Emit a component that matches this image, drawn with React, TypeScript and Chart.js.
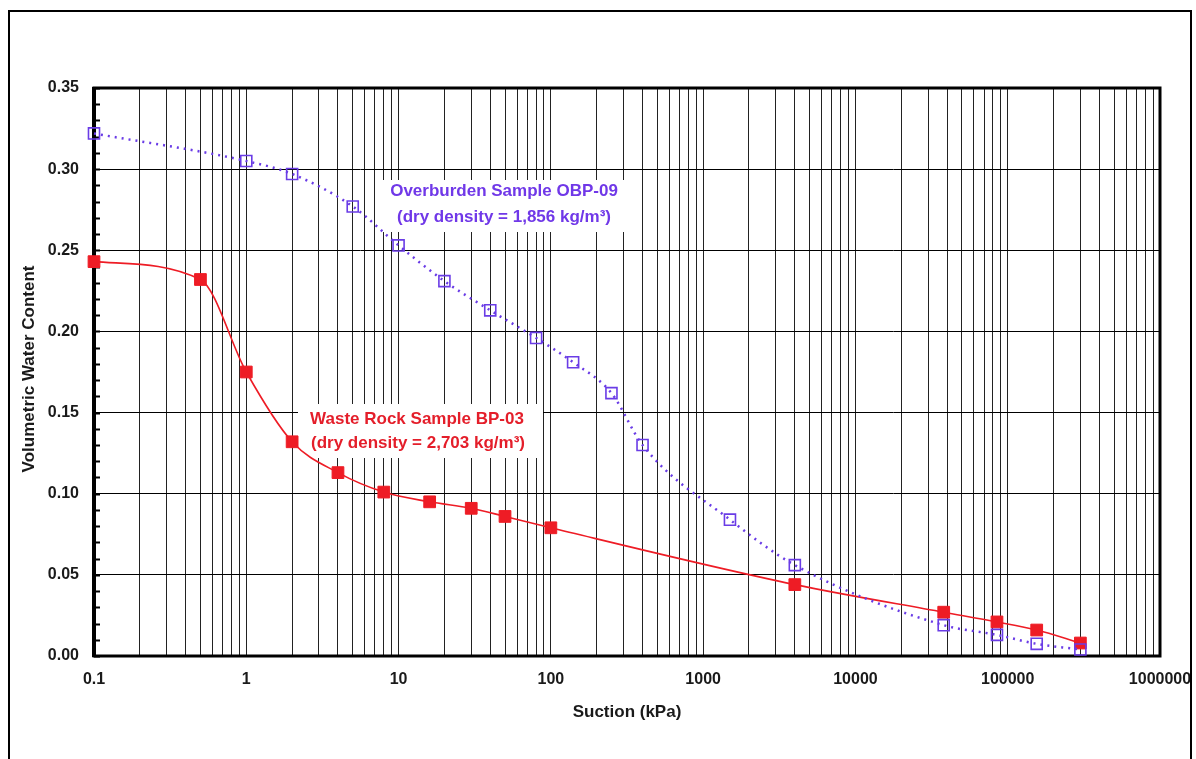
import { useEffect, useRef } from 'react';
import { Chart, registerables } from 'chart.js';

Chart.register(...registerables);

// ---- Data ----
const suctionOB = [0.1, 1, 2, 5, 10, 20, 40, 80, 140, 250, 400, 1500, 4000, 38000, 85000, 155000, 300000];
const vwcOB = [0.322, 0.305, 0.297, 0.277, 0.253, 0.231, 0.213, 0.196, 0.181, 0.162, 0.130, 0.084, 0.056, 0.019, 0.013, 0.0075, 0.004];

const suctionWR = [0.1, 0.5, 1, 2, 4, 8, 16, 30, 50, 100, 4000, 38000, 85000, 155000, 300000];
const vwcWR = [0.243, 0.232, 0.175, 0.132, 0.113, 0.101, 0.095, 0.091, 0.086, 0.079, 0.044, 0.027, 0.021, 0.016, 0.008];

const xDecades = [0.1, 1, 10, 100, 1000, 10000, 100000];
const xMultipliers = [1, 2, 3, 4, 5, 6, 7, 8, 9];
const xMin = 0.1;
const xMax = 1000000;
const xTickLabels = ['0.1', '1', '10', '100', '1000', '10000', '100000', '1000000'];

const yMin = 0;
const yMax = 0.35;
const yMajorStep = 0.05;
const yMinorCount = 35; // minor ticks every 0.01

const labelOB = ['Overburden Sample OBP-09', '(dry density = 1,856 kg/m³)'];
const labelWR = ['Waste Rock Sample BP-03', '(dry density = 2,703 kg/m³)'];
const xTitle = 'Suction (kPa)';
const yTitle = 'Volumetric Water Content';

const BLUE = '#6a3ce6';
const BLUE_TEXT = '#7038e8';
const RED = '#ee1c25';
const RED_TEXT = '#e41e2a';
const FONT = "'Liberation Sans', Arial, Helvetica, sans-serif";

export default function App() {
  const ref = useRef<HTMLCanvasElement>(null);

  useEffect(() => {
    const canvas = ref.current;
    if (!canvas) return;

    const decor = {
      id: 'decor',
      beforeDraw(chart: any) {
        const ctx = chart.ctx;
        ctx.save();
        ctx.fillStyle = '#fff';
        ctx.fillRect(0, 0, chart.width, chart.height);
        ctx.restore();
      },
      beforeDatasetsDraw(chart: any) {
        const { ctx, chartArea: a, scales } = chart;
        const ys = scales.y;
        ctx.save();
        // plot frame
        ctx.strokeStyle = '#000';
        ctx.lineWidth = 3;
        ctx.strokeRect(a.left, a.top, a.right - a.left, a.bottom - a.top);
        ctx.lineWidth = 4;
        ctx.beginPath();
        ctx.moveTo(a.left, a.top - 1);
        ctx.lineTo(a.left, a.bottom + 1);
        ctx.stroke();
        // inner minor ticks on the y axis
        ctx.lineWidth = 2;
        ctx.beginPath();
        for (let i = 0; i <= yMinorCount; i++) {
          const py = Math.round(ys.getPixelForValue(i * 0.01)) + 0.5;
          ctx.moveTo(a.left, py);
          ctx.lineTo(a.left + 6, py);
        }
        ctx.stroke();
        // white label boxes
        ctx.fillStyle = '#fff';
        ctx.fillRect(378, 180, 250, 52);
        ctx.fillRect(298, 404, 245, 54);
        ctx.restore();
      },
      afterDraw(chart: any) {
        const ctx = chart.ctx;
        ctx.save();
        ctx.textAlign = 'center';
        ctx.textBaseline = 'middle';
        ctx.font = `bold 17px ${FONT}`;
        ctx.fillStyle = BLUE_TEXT;
        ctx.fillText(labelOB[0], 504, 191);
        ctx.fillText(labelOB[1], 504, 217);
        ctx.fillStyle = RED_TEXT;
        ctx.fillText(labelWR[0], 417, 419);
        ctx.fillText(labelWR[1], 418, 443);
        // axis titles
        ctx.fillStyle = '#1a1a1a';
        ctx.font = `bold 17px ${FONT}`;
        ctx.fillText(xTitle, 627, 712);
        ctx.translate(29, 369);
        ctx.rotate(-Math.PI / 2);
        ctx.fillText(yTitle, 0, 0);
        ctx.restore();
        // outer border
        ctx.save();
        ctx.strokeStyle = '#000';
        ctx.lineWidth = 2;
        ctx.beginPath();
        ctx.moveTo(9, 780);
        ctx.lineTo(9, 11);
        ctx.lineTo(1191, 11);
        ctx.lineTo(1191, 780);
        ctx.stroke();
        ctx.restore();
      },
    };

    const chart = new Chart(canvas, {
      type: 'line',
      data: {
        datasets: [
          {
            label: 'Overburden Sample OBP-09',
            data: suctionOB.map((x, i) => ({ x, y: vwcOB[i] })),
            borderColor: BLUE,
            borderWidth: 2.5,
            borderDash: [2, 5],
            cubicInterpolationMode: 'monotone',
            pointStyle: 'rect',
            pointRadius: 7.8,
            pointBorderWidth: 1.6,
            pointBorderColor: BLUE,
            pointBackgroundColor: 'rgba(0,0,0,0)',
            fill: false,
            clip: false as any,
          },
          {
            label: 'Waste Rock Sample BP-03',
            data: suctionWR.map((x, i) => ({ x, y: vwcWR[i] })),
            borderColor: RED,
            borderWidth: 1.6,
            cubicInterpolationMode: 'monotone',
            pointStyle: 'rect',
            pointRadius: 8.3,
            pointBorderWidth: 1,
            pointBorderColor: RED,
            pointBackgroundColor: RED,
            fill: false,
            clip: false as any,
          },
        ],
      },
      options: {
        responsive: false,
        animation: false,
        devicePixelRatio: 1,
        layout: { padding: { left: 0, top: 88, right: 36, bottom: 0 } },
        plugins: {
          legend: { display: false },
          tooltip: { enabled: false },
          title: { display: false },
        },
        scales: {
          x: {
            type: 'logarithmic',
            min: xMin,
            max: xMax,
            afterBuildTicks(scale: any) {
              const ticks: any[] = [];
              xDecades.forEach((d) => xMultipliers.forEach((m) => ticks.push({ value: +(d * m).toPrecision(6) })));
              ticks.push({ value: xMax });
              scale.ticks = ticks;
            },
            afterFit(scale: any) {
              scale.height = 103;
              scale.paddingLeft = 0;
              scale.paddingRight = 0;
            },
            border: { display: false },
            grid: { color: '#222', lineWidth: 1, drawTicks: false },
            ticks: {
              autoSkip: false,
              maxRotation: 0,
              minRotation: 0,
              padding: 14,
              color: '#1a1a1a',
              font: { family: FONT, size: 16, weight: 'bold' },
              callback(value: any) {
                const s = String(+Number(value).toPrecision(6));
                return xTickLabels.includes(s) ? s : '';
              },
            },
          },
          y: {
            type: 'linear',
            min: yMin,
            max: yMax,
            afterFit(scale: any) {
              scale.width = 94;
              scale.paddingTop = 0;
              scale.paddingBottom = 0;
            },
            border: { display: false },
            grid: { color: '#000', lineWidth: 1, drawTicks: false },
            ticks: {
              stepSize: yMajorStep,
              padding: 15,
              color: '#1a1a1a',
              font: { family: FONT, size: 16, weight: 'bold' },
              callback(value: any) {
                return Number(value).toFixed(2);
              },
            },
          },
        },
      } as any,
      plugins: [decor],
    });

    return () => chart.destroy();
  }, []);

  return (
    <div style={{ position: 'fixed', left: 0, top: 0, width: 1196, height: 759, background: '#fff' }}>
      <canvas ref={ref} width={1196} height={759} style={{ display: 'block' }} />
    </div>
  );
}
